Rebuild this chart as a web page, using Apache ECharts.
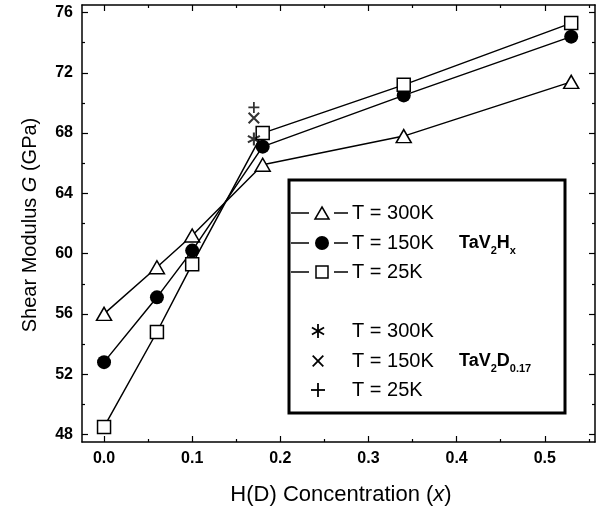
<!DOCTYPE html>
<html><head><meta charset="utf-8">
<script src="https://cdn.jsdelivr.net/npm/echarts@6/dist/echarts.min.js"></script>
<style>html,body{margin:0;padding:0;background:#fff}#c{width:602px;height:512px}</style>
</head><body><div id="c"></div>
<script>
// ---- data ----
const conc = [0, 0.06, 0.1, 0.18, 0.34, 0.53];
const g300 = [56.0, 59.1, 61.2, 65.9, 67.8, 71.4];
const g150 = [52.8, 57.1, 60.2, 67.1, 70.5, 74.4];
const g25  = [48.5, 54.8, 59.3, 68.0, 71.2, 75.3];
const dConc = [0.17];
const d300 = [67.6];
const d150 = [69.0];
const d25  = [69.7];
const xTicks = [0, 0.1, 0.2, 0.3, 0.4, 0.5];
const xMinor = [0.05, 0.15, 0.25, 0.35, 0.45, 0.55];
const yTicks = [48, 52, 56, 60, 64, 68, 72, 76];
const yMinor = [50, 54, 58, 62, 66, 70, 74];
const legendH = ['T = 300K', 'T = 150K', 'T = 25K'];
const legendD = ['T = 300K', 'T = 150K', 'T = 25K'];

// ---- symbols ----
const astAngles = [90, 30, 150], xAngles = [45, 135], plusAngles = [0, 90];
function barsPath(angles, hw) {
  let s = '';
  angles.forEach(a => {
    const r = a * Math.PI / 180, c = Math.cos(r), n = Math.sin(r);
    const L = 10;
    const pts = [[10 + L*c + hw*n, 10 + L*n - hw*c],[10 + L*c - hw*n, 10 + L*n + hw*c],
                 [10 - L*c - hw*n, 10 - L*n + hw*c],[10 - L*c + hw*n, 10 - L*n - hw*c]];
    s += 'M' + pts.map(p => p[0].toFixed(2) + ',' + p[1].toFixed(2)).join('L') + 'Z';
  });
  return s;
}
const astPath = barsPath(astAngles, 1.5);
const xPath = barsPath(xAngles, 1.4);
const plusPath = barsPath(plusAngles, 1.6);

const FONT = '"Liberation Sans", Arial, sans-serif';
const black = '#000';

function xAx(pos, vals, len, labels, line) {
  return {type:'value', position:pos, min:-0.025, max:0.557, gridIndex:0,
    axisLine:{show:line, onZero:false, lineStyle:{color:black, width:1.5}},
    axisTick:{show:true, inside:true, length:len, customValues:vals, lineStyle:{color:black, width:1.2}},
    axisLabel:{show:labels, customValues:vals, formatter:v=>v.toFixed(1), color:black, fontFamily:FONT, fontWeight:'bold', fontSize:16, margin:9},
    splitLine:{show:false}};
}
function yAx(pos, vals, len, labels, line) {
  return {type:'value', position:pos, min:47.5, max:76.5, gridIndex:0,
    axisLine:{show:line, onZero:false, lineStyle:{color:black, width:1.5}},
    axisTick:{show:true, inside:true, length:len, customValues:vals, lineStyle:{color:black, width:1.2}},
    axisLabel:{show:labels, customValues:vals, formatter:v=>String(Math.round(v)), color:black, fontFamily:FONT, fontWeight:'bold', fontSize:16, margin:9},
    splitLine:{show:false}};
}

// ---- legend graphics ----
const mctx = document.createElement('canvas').getContext('2d');
function tw(txt, font) { mctx.font = font; return mctx.measureText(txt).width; }
const BX = 289, BY = 180, BW = 276, BH = 233;
const rowsH = [213, 243, 272], rowsD = [331, 361, 390];
const g = [];
g.push({type:'rect', shape:{x:BX, y:BY, width:BW, height:BH}, style:{fill:'#fff', stroke:black, lineWidth:3}, z:10});
rowsH.forEach((y, i) => {
  g.push({type:'line', shape:{x1:291, y1:y, x2:309, y2:y}, style:{stroke:black, lineWidth:1.5}, z:11});
  g.push({type:'line', shape:{x1:334, y1:y, x2:348, y2:y}, style:{stroke:black, lineWidth:1.5}, z:11});
  if (i === 0) g.push({type:'polygon', shape:{points:[[322, y-6],[329, y+6],[315, y+6]]}, style:{fill:'#fff', stroke:black, lineWidth:1.5}, z:11});
  if (i === 1) g.push({type:'circle', shape:{cx:322, cy:y, r:7}, style:{fill:black}, z:11});
  if (i === 2) g.push({type:'rect', shape:{x:316, y:y-6, width:12, height:12}, style:{fill:'#fff', stroke:black, lineWidth:1.5}, z:11});
  g.push({type:'text', x:352, y:y, style:{text:legendH[i], font:'20px ' + FONT, fill:black, textVerticalAlign:'middle'}, z:11});
});
const dAngles = [astAngles, xAngles, plusAngles];
rowsD.forEach((y, i) => {
  const L = i === 1 ? 7.5 : 7;
  dAngles[i].forEach(a => {
    const r = a * Math.PI / 180;
    g.push({type:'line', shape:{x1:318 - L*Math.cos(r), y1:y - L*Math.sin(r), x2:318 + L*Math.cos(r), y2:y + L*Math.sin(r)},
      style:{stroke:black, lineWidth:1.8}, z:11});
  });
  g.push({type:'text', x:352, y:y, style:{text:legendD[i], font:'20px ' + FONT, fill:black, textVerticalAlign:'middle'}, z:11});
});
function formula(x, y, parts) {
  let cx = x;
  parts.forEach(p => {
    const fs = p[1] ? 11 : 18;
    const font = 'bold ' + fs + 'px ' + FONT;
    g.push({type:'text', x:cx, y:p[1] ? y + 8 : y, style:{text:p[0], font:font, fill:black, textVerticalAlign:'middle'}, z:11});
    cx += tw(p[0], font);
  });
}
formula(459, 243, [['TaV', false], ['2', true], ['H', false], ['x', true]]);
formula(459, 361, [['TaV', false], ['2', true], ['D', false], ['0.17', true]]);

// axis titles
g.push({type:'text', x:30, y:225, rotation:Math.PI/2, style:{
  text:'{n|Shear Modulus }{i|G}{n| (GPa)}', fill:black, align:'center', verticalAlign:'middle',
  rich:{n:{font:'20px ' + FONT, fill:black}, i:{font:'italic 20px ' + FONT, fill:black}}}});
g.push({type:'text', x:341, y:495, style:{
  text:'{n|H(D) Concentration (}{i|x}{n|)}', fill:black, align:'center', verticalAlign:'middle',
  rich:{n:{font:'22px ' + FONT, fill:black}, i:{font:'italic 22px ' + FONT, fill:black}}}});

const pair = (xs, ys) => xs.map((x, i) => [x, ys[i]]);
const ch = echarts.init(document.getElementById('c'), null, {renderer:'canvas'});
ch.setOption({
  animation:false,
  backgroundColor:'#fff',
  grid:{left:82, right:7, top:5, bottom:70, containLabel:false},
  xAxis:[xAx('bottom', xTicks, 6, true, true), xAx('bottom', xMinor, 3, false, false),
         xAx('top', xTicks, 6, false, true), xAx('top', xMinor, 3, false, false)],
  yAxis:[yAx('left', yTicks, 6, true, true), yAx('left', yMinor, 3, false, false),
         yAx('right', yTicks, 6, false, true), yAx('right', yMinor, 3, false, false)],
  series:[
    {type:'line', name:'300K', data:pair(conc, g300), symbol:'triangle', symbolSize:[15,13],
     itemStyle:{color:'#fff', borderColor:black, borderWidth:1.5}, lineStyle:{color:black, width:1.5}, z:3},
    {type:'line', name:'150K', data:pair(conc, g150), symbol:'circle', symbolSize:14,
     itemStyle:{color:black, borderColor:black, borderWidth:0}, lineStyle:{color:black, width:1.5}, z:4},
    {type:'line', name:'25K', data:pair(conc, g25), symbol:'rect', symbolSize:13,
     itemStyle:{color:'#fff', borderColor:black, borderWidth:1.5}, lineStyle:{color:black, width:1.5}, z:5},
    {type:'scatter', name:'D300', data:pair(dConc, d300), symbol:'path://' + astPath, symbolSize:13, itemStyle:{color:black, borderWidth:0}, z:6},
    {type:'scatter', name:'D150', data:pair(dConc, d150), symbol:'path://' + xPath, symbolSize:12, itemStyle:{color:black, borderWidth:0}, z:6},
    {type:'scatter', name:'D25', data:pair(dConc, d25), symbol:'path://' + plusPath, symbolSize:11, itemStyle:{color:black, borderWidth:0}, z:6}
  ],
  graphic:{elements:g}
});
</script></body></html>
